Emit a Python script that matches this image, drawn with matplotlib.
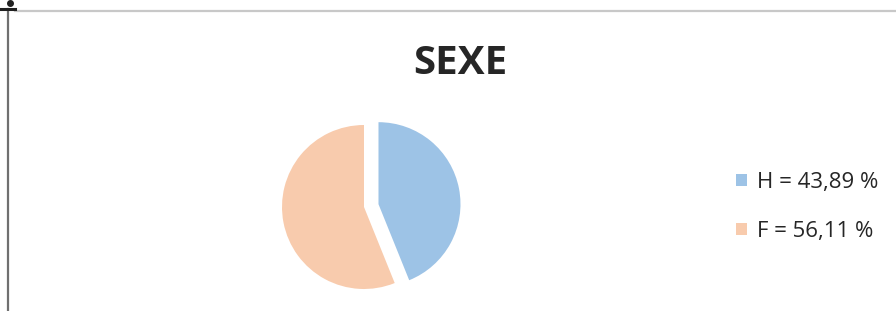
import matplotlib
matplotlib.use("Agg")
import matplotlib.pyplot as plt

# donnees
labels = ['H', 'F']
values = [43.89, 56.11]
colors = ['#9DC3E6', '#F8CBAD']
legend_labels = ['H = 43,89 %', 'F = 56,11 %']

W, H = 896, 311
fig = plt.figure(figsize=(W / 100, H / 100), dpi=100)

# fond en coordonnees pixels (cadre de la feuille)
bg = fig.add_axes([0, 0, 1, 1])
bg.set_xlim(0, W)
bg.set_ylim(H, 0)
bg.axis('off')
bg.plot([8, 8], [9, H], color='#707070', lw=1.6)
bg.plot([15, W], [10.5, 10.5], color='#c8c8c8', lw=1.6)
bg.plot([0, 15], [9, 9], color='#202020', lw=2.2)
bg.plot([10], [2.5], 'o', color='#202020', ms=4)

# titre
fig.text(460 / W, 1 - 64 / H, 'SEXE', ha='center', va='center',
         fontsize=29, fontweight='bold', family='Open Sans', color='#262626')

# camembert
r = 82
cx, cy = 364, 207
size = 2.6 * r
ax = fig.add_axes([(cx - size / 2) / W, (H - cy - size / 2) / H, size / W, size / H])
wedges, _ = ax.pie(values, colors=colors, startangle=90, counterclock=False,
                   explode=[0.18, 0], wedgeprops=dict(linewidth=0))
ax.set_xlim(-1.3, 1.3)
ax.set_ylim(-1.3, 1.3)
ax.set_aspect('equal')
ax.axis('off')

leg = fig.legend(wedges, legend_labels, loc='upper left',
                 bbox_to_anchor=(736 / W, 1 - 172 / H), frameon=False,
                 prop=dict(family='Open Sans', size=16),
                 handlelength=0.5, handleheight=0.5, handletextpad=0.45,
                 labelspacing=1.25, borderpad=0, borderaxespad=0)
for t in leg.get_texts():
    t.set_color('#262626')

fig.savefig('out.png', dpi=100)
